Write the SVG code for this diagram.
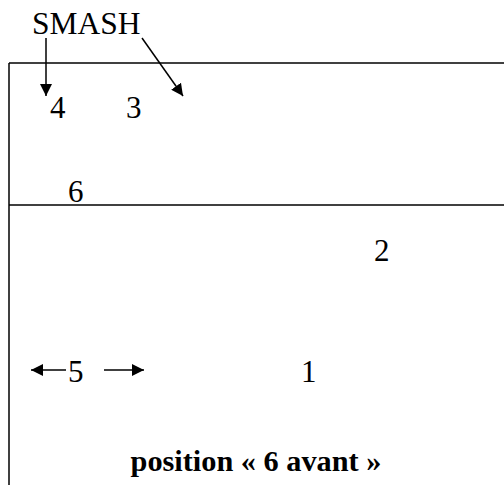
<svg xmlns="http://www.w3.org/2000/svg" width="504" height="485" viewBox="0 0 504 485">
<style>
text{font-family:"Liberation Serif","Times New Roman",serif;font-size:31px;fill:#000}
.s{font-size:31.5px}
.b{font-weight:bold;font-size:30.3px}
line{stroke:#000;stroke-width:1.5}
</style>
<defs>
<marker id="ah" viewBox="0 0 10 10" refX="10" refY="5" markerWidth="12" markerHeight="12" markerUnits="userSpaceOnUse" orient="auto-start-reverse"><path d="M0,0L10,5L0,10z" fill="#000"/></marker>
</defs>
<g id="court">
<line x1="9" y1="63" x2="504" y2="63"/>
<line x1="9" y1="205" x2="504" y2="205"/>
<line x1="9" y1="63" x2="9" y2="485"/>
</g>
<g id="labels">
<text id="smash" class="s" x="32" y="34">SMASH</text>
<text id="n4" x="50" y="118">4</text>
<text id="n3" x="126" y="118">3</text>
<text id="n6" x="68" y="202">6</text>
<text id="n2" x="374" y="261">2</text>
<text id="n5" x="68" y="382">5</text>
<text id="n1" x="301" y="382">1</text>
<text id="caption" class="b" x="256" y="471" text-anchor="middle">position « 6 avant »</text>
</g>
<g id="connectors">
<line x1="46" y1="38" x2="46" y2="96" marker-end="url(#ah)"/>
<line x1="142" y1="38" x2="183" y2="96" marker-end="url(#ah)"/>
<line x1="66" y1="370" x2="31" y2="370" marker-end="url(#ah)"/>
<line x1="104" y1="370" x2="144" y2="370" marker-end="url(#ah)"/>
</g>
</svg>
